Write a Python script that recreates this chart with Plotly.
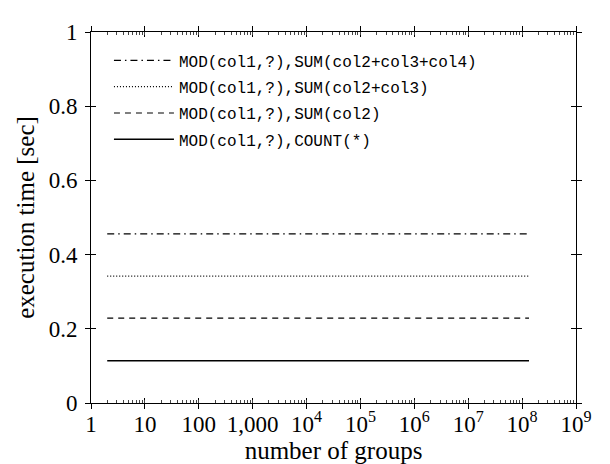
import plotly.graph_objects as go

# data
groups = [2, 4, 16, 256, 4096, 65536, 1048576, 16777216, 134217728]
t_count = [0.114, 0.114, 0.114, 0.114, 0.114, 0.114, 0.114, 0.114, 0.114]
t_sum2 = [0.229, 0.229, 0.229, 0.229, 0.229, 0.229, 0.229, 0.229, 0.229]
t_sum23 = [0.342, 0.342, 0.342, 0.342, 0.342, 0.342, 0.342, 0.342, 0.342]
t_sum234 = [0.456, 0.456, 0.456, 0.456, 0.456, 0.456, 0.456, 0.456, 0.456]
names = ["MOD(col1,?),COUNT(*)", "MOD(col1,?),SUM(col2)",
         "MOD(col1,?),SUM(col2+col3)", "MOD(col1,?),SUM(col2+col3+col4)"]
x_tickvals = [1, 10, 100, 1000, 1e4, 1e5, 1e6, 1e7, 1e8, 1e9]
x_ticktext = ["1", "10", "100", "1,000", "10<sup>4</sup>", "10<sup>5</sup>",
              "10<sup>6</sup>", "10<sup>7</sup>", "10<sup>8</sup>", "10<sup>9</sup>"]
y_tickvals = [0, 0.2, 0.4, 0.6, 0.8, 1]
y_ticktext = ["0", "0.2", "0.4", "0.6", "0.8", "1"]

series = [t_count, t_sum2, t_sum23, t_sum234]
dashes = ["solid", "6px,5px", "1px,2px", "7px,4px,1.5px,4px"]
widths = [1.6, 1.2, 1.2, 1.2]

serif = "Liberation Serif"
mono = "Liberation Mono"
FS = 23

fig = go.Figure()
# add in reverse so the legend lists the slowest query first
for i in [3, 2, 1, 0]:
    fig.add_trace(go.Scatter(
        x=groups, y=series[i], mode="lines", name=names[i], legendgroup=str(i),
        line=dict(color="black", width=widths[i], dash=dashes[i]),
        hoverinfo="skip"))

# invisible anchors for the helper tick axes
fig.add_trace(go.Scatter(x=[groups[0]], y=[t_count[0]], xaxis="x2", yaxis="y2",
                         mode="markers", marker=dict(opacity=0), showlegend=False,
                         hoverinfo="skip"))
fig.add_trace(go.Scatter(x=[groups[0]], y=[t_count[0]], xaxis="x3", yaxis="y2",
                         mode="markers", marker=dict(opacity=0), showlegend=False,
                         hoverinfo="skip"))

fig.update_layout(
    width=610, height=464,
    margin=dict(l=83, r=42, t=17, b=69),
    paper_bgcolor="white", plot_bgcolor="white",
    font=dict(family=serif, color="black", size=FS),
    showlegend=True,
    legend=dict(x=0.037, y=0.969, xanchor="left", yanchor="top",
                traceorder="grouped", tracegroupgap=2.5,
                bgcolor="rgba(0,0,0,0)", itemwidth=60,
                font=dict(family=mono, size=16, color="black")),
    xaxis=dict(type="log", range=[0, 9], tickmode="array", tickvals=x_tickvals,
               ticktext=x_ticktext,
               showgrid=False, zeroline=False, showline=True, linecolor="black",
               linewidth=1, mirror="allticks", ticks="inside", ticklen=5,
               tickcolor="black", tickfont=dict(size=FS, family=serif),
               title=dict(text="number of groups", font=dict(size=FS + 2, family=serif),
                          standoff=3)),
    yaxis=dict(range=[0, 1], tickmode="array", tickvals=y_tickvals, ticktext=y_ticktext,
               showgrid=False, zeroline=False, showline=True, linecolor="black",
               linewidth=1, mirror="allticks", ticks="inside", ticklen=5,
               tickcolor="black", tickfont=dict(size=FS, family=serif),
               ticklabelstandoff=8,
               title=dict(text="execution time [sec]", font=dict(size=FS + 2, family=serif),
                          standoff=6)),
    xaxis2=dict(type="log", range=[0, 9], overlaying="x", anchor="y2", side="bottom",
                tickmode="array", tickvals=x_tickvals, showticklabels=False,
                showgrid=False, zeroline=False, showline=False, ticks="outside",
                ticklen=5, tickcolor="black", mirror="ticks"),
    xaxis3=dict(type="log", range=[0, 9], overlaying="x", anchor="y2", side="bottom",
                dtick="D1", showticklabels=False, showgrid=False, zeroline=False,
                showline=False, ticks="inside", ticklen=3, tickwidth=0.8,
                tickcolor="#444", mirror="ticks"),
    yaxis2=dict(range=[0, 1], overlaying="y", anchor="x2", side="left",
                tickmode="array", tickvals=y_tickvals, showticklabels=False,
                showgrid=False, zeroline=False, showline=False, ticks="outside",
                ticklen=5, tickcolor="black", mirror="ticks"),
)

fig.write_html("out.html")
